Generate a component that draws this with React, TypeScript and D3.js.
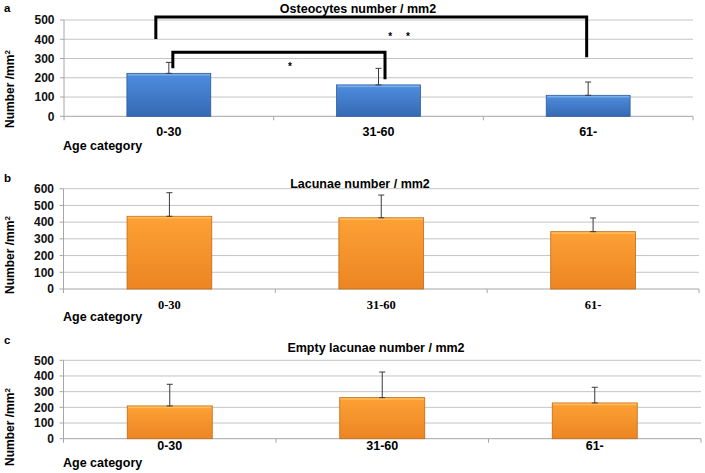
import React from "react";
import * as d3 from "d3";

// ---------- data ----------
const categories = ["0-30", "31-60", "61-"];

const osteocytesMean = [223, 163, 109];
const osteocytesUpper = [280, 249, 178];

const lacunaeMean = [435, 426, 343];
const lacunaeUpper = [576, 562, 425];

const emptyMean = [209, 262, 228];
const emptyUpper = [347, 425, 328];

const osteocytesTicks = [0, 100, 200, 300, 400, 500];
const lacunaeTicks = [0, 100, 200, 300, 400, 500, 600];
const emptyTicks = [0, 100, 200, 300, 400, 500];

const panelLetters = ["a", "b", "c"];
const panelTitles = [
  "Osteocytes number / mm2",
  "Lacunae number / mm2",
  "Empty lacunae number / mm2",
];
const xAxisTitle = "Age category";

// significance brackets (panel a): category indices, label, heights in data units
const sigFrom = [0, 0];
const sigTo = [1, 2];
const sigLabels = ["*", "* *"];
const sigTop = [332, 516];
const sigLeftEnd = [249, 401];
const sigRightEnd = [192, 306];

// ---------- layout ----------
const SANS = "'Liberation Sans', Arial, Helvetica, sans-serif";
const SERIF = "'Liberation Serif', 'Times New Roman', serif";

type PanelCfg = {
  top: number;
  bottom: number;
  left: number;
  right: number;
  yMax: number;
  ticks: number[];
  means: number[];
  uppers: number[];
  fill: string;
  stroke: string;
  highlight: string;
  letterY: number;
  titleX: number;
  titleY: number;
  xLabelY: number;
  xLabelFont: string;
  ageY: number;
  yTitleCenter: number;
};

const panels: PanelCfg[] = [
  {
    top: 20, bottom: 116.3, left: 64, right: 693, yMax: 500, ticks: osteocytesTicks,
    means: osteocytesMean, uppers: osteocytesUpper,
    fill: "url(#blueGrad)", stroke: "#2b5b9c", highlight: "#7fb0ea",
    letterY: 12, titleX: 358, titleY: 12.5, xLabelY: 136, xLabelFont: SANS, ageY: 149.5, yTitleCenter: 89,
  },
  {
    top: 188.7, bottom: 289, left: 63.5, right: 699, yMax: 600, ticks: lacunaeTicks,
    means: lacunaeMean, uppers: lacunaeUpper,
    fill: "url(#orangeGrad)", stroke: "#c06a16", highlight: "#ffc060",
    letterY: 181.5, titleX: 360, titleY: 187.5, xLabelY: 308.5, xLabelFont: SERIF, ageY: 320.5, yTitleCenter: 255,
  },
  {
    top: 360.3, bottom: 438.7, left: 63.5, right: 701, yMax: 500, ticks: emptyTicks,
    means: emptyMean, uppers: emptyUpper,
    fill: "url(#orangeGrad)", stroke: "#c06a16", highlight: "#ffc060",
    letterY: 343.5, titleX: 376, titleY: 351.5, xLabelY: 450, xLabelFont: SANS, ageY: 467, yTitleCenter: 427,
  },
];

// bracket leg x-offsets (px) from bar centres, label positions
const bracketLegOffsets = [
  [4, 6.5],
  [-13, -1.5],
];
const sigLabelX = [290, 399];
const sigLabelY = [70, 40];
const sigLabelGap = 17.7;

function Panel({ cfg, idx }: { cfg: PanelCfg; idx: number }) {
  const x = d3
    .scaleBand<string>()
    .domain(categories)
    .range([cfg.left, cfg.right])
    .padding(0);
  const y = d3.scaleLinear().domain([0, cfg.yMax]).range([cfg.bottom, cfg.top]);
  const bw = x.bandwidth() * 0.4;
  const cx = (c: string) => (x(c) as number) + x.bandwidth() / 2;
  const boundaries = [cfg.left, ...categories.slice(1).map((c) => x(c) as number), cfg.right];

  return (
    <g>
      {/* panel letter */}
      <text x={4} y={cfg.letterY} fontFamily={SANS} fontWeight="bold" fontSize={11.5} fill="#000">
        {panelLetters[idx]}
      </text>
      {/* gridlines */}
      {cfg.ticks.slice(1).map((t) => (
        <line key={"g" + t} x1={cfg.left} x2={cfg.right} y1={y(t)} y2={y(t)} stroke="#c4c4c4" strokeWidth={1} />
      ))}
      {/* y axis */}
      <line x1={cfg.left} x2={cfg.left} y1={cfg.top} y2={cfg.bottom} stroke="#a6a6a6" strokeWidth={1} />
      {cfg.ticks.map((t) => (
        <g key={"t" + t}>
          <line x1={cfg.left - 4} x2={cfg.left} y1={y(t)} y2={y(t)} stroke="#a6a6a6" strokeWidth={1} />
          <text
            x={cfg.left - 9.5}
            y={y(t) + 4.3}
            textAnchor="end"
            fontFamily={SANS}
            fontWeight="bold"
            fontSize={12}
            fill="#111"
          >
            {t}
          </text>
        </g>
      ))}
      {/* x axis */}
      <line x1={cfg.left} x2={cfg.right} y1={cfg.bottom} y2={cfg.bottom} stroke="#a6a6a6" strokeWidth={1} />
      {boundaries.map((b, i) => (
        <line key={"xb" + i} x1={b} x2={b} y1={cfg.bottom} y2={cfg.bottom + 4} stroke="#a6a6a6" strokeWidth={1} />
      ))}
      {/* bars */}
      {categories.map((c, i) => {
        const x0 = cx(c) - bw / 2;
        const yt = y(cfg.means[i]);
        const h = cfg.bottom - yt;
        return (
          <g key={"bar" + c}>
            <rect x={x0} y={yt} width={bw} height={h} fill={cfg.fill} stroke={cfg.stroke} strokeWidth={0.8} />
            <rect x={x0 + 0.8} y={yt + 0.6} width={bw - 1.6} height={1.6} fill={cfg.highlight} opacity={0.9} />
          </g>
        );
      })}
      {/* error bars */}
      {categories.map((c, i) => {
        const xc = cx(c);
        const y0 = y(cfg.means[i]);
        const y1 = y(cfg.uppers[i]);
        return (
          <g key={"err" + c} stroke="#3a3a3a" strokeWidth={1}>
            <line x1={xc} x2={xc} y1={y0} y2={y1} />
            <line x1={xc - 3} x2={xc + 3} y1={y1} y2={y1} />
            <line x1={xc - 3} x2={xc + 3} y1={y0} y2={y0} />
          </g>
        );
      })}
      {/* titles */}
      <text x={cfg.titleX} y={cfg.titleY} textAnchor="middle" fontFamily={SANS} fontWeight="bold" fontSize={12.5} fill="#000">
        {panelTitles[idx]}
      </text>
      {categories.map((c) => (
        <text
          key={"xl" + c}
          x={cx(c)}
          y={cfg.xLabelY}
          textAnchor="middle"
          fontFamily={cfg.xLabelFont}
          fontWeight="bold"
          fontSize={12.5}
          fill="#000"
        >
          {c}
        </text>
      ))}
      <text x={63} y={cfg.ageY} fontFamily={SANS} fontWeight="bold" fontSize={12.5} fill="#000">
        {xAxisTitle}
      </text>
      <text
        transform={`translate(13.5,${cfg.yTitleCenter}) rotate(-90)`}
        textAnchor="middle"
        fontFamily={SANS}
        fontWeight="bold"
        fontSize={12}
        fill="#000"
      >
        Number /mm<tspan dy={-4} fontSize={8}>2</tspan>
      </text>
      {/* significance brackets (panel a only) */}
      {idx === 0 &&
        sigFrom.map((f, k) => {
          const xl = cx(categories[f]) + bracketLegOffsets[k][0];
          const xr = cx(categories[sigTo[k]]) + bracketLegOffsets[k][1];
          const yt = y(sigTop[k]);
          const path = d3.path();
          path.moveTo(xl, y(sigLeftEnd[k]));
          path.lineTo(xl, yt);
          path.lineTo(xr, yt);
          path.lineTo(xr, y(sigRightEnd[k]));
          const parts = sigLabels[k].split(" ");
          const start = sigLabelX[k] - ((parts.length - 1) * sigLabelGap) / 2;
          return (
            <g key={"sig" + k}>
              <path d={path.toString()} fill="none" stroke="#000" strokeWidth={3} strokeLinejoin="miter" />
              {parts.map((p, j) => (
                <text
                  key={j}
                  x={start + j * sigLabelGap}
                  y={sigLabelY[k]}
                  textAnchor="middle"
                  fontFamily={SANS}
                  fontWeight="bold"
                  fontSize={10}
                  fill="#000"
                >
                  {p}
                </text>
              ))}
            </g>
          );
        })}
    </g>
  );
}

export default function App() {
  return (
    <svg
      width={705}
      height={473}
      viewBox="0 0 705 473"
      style={{ position: "absolute", left: 0, top: 0, background: "#fff" }}
    >
      <defs>
        <linearGradient id="blueGrad" x1="0" y1="0" x2="0" y2="1">
          <stop offset="0" stopColor="#4f8ede" />
          <stop offset="1" stopColor="#3569b4" />
        </linearGradient>
        <linearGradient id="orangeGrad" x1="0" y1="0" x2="0" y2="1">
          <stop offset="0" stopColor="#fda136" />
          <stop offset="1" stopColor="#ec8522" />
        </linearGradient>
      </defs>
      <rect x={0} y={0} width={705} height={473} fill="#fff" />
      {panels.map((p, i) => (
        <Panel key={i} cfg={p} idx={i} />
      ))}
    </svg>
  );
}
